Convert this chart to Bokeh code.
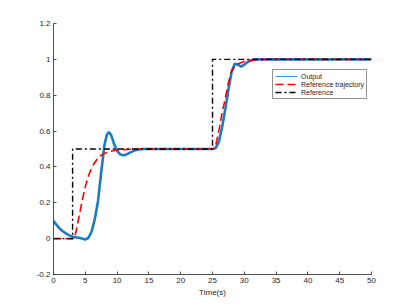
from bokeh.plotting import figure
from bokeh.models import ColumnDataSource, Legend, LegendItem, FixedTicker
from bokeh.embed import file_html
from bokeh.resources import INLINE

# ---- data ----
out_t = [0, 0.5, 1, 1.5, 2, 2.5, 3, 4, 5, 5.5, 6, 6.5, 7, 7.5, 8, 8.4, 8.7, 9.1, 9.5, 10,
         10.5, 11, 11.5, 12, 13, 14, 20, 25, 25.5, 26, 26.5, 27, 27.5, 28, 28.5, 29, 29.5,
         30, 30.5, 31.5, 40, 50]
out_y = [0.10, 0.075, 0.055, 0.04, 0.028, 0.018, 0.01, 0.005, -0.005, 0.005, 0.04, 0.11,
         0.21, 0.37, 0.52, 0.58, 0.595, 0.575, 0.53, 0.49, 0.47, 0.465, 0.47, 0.48, 0.495,
         0.5, 0.5, 0.5, 0.505, 0.54, 0.62, 0.72, 0.83, 0.93, 0.975, 0.97, 0.96, 0.97, 0.985,
         1.0, 1.0, 1.0]

traj_t = [0, 3.2, 3.5, 4, 4.5, 5, 5.5, 6, 6.5, 7, 7.5, 8, 9, 10, 12, 14, 25.2, 25.5, 26,
          26.5, 27, 27.5, 28, 28.5, 29, 30, 31, 32, 34, 50]
traj_y = [0, 0, 0.03, 0.12, 0.21, 0.29, 0.35, 0.395, 0.425, 0.45, 0.465, 0.475, 0.487,
          0.494, 0.499, 0.5, 0.5, 0.52, 0.6, 0.7, 0.78, 0.87, 0.935, 0.96, 0.975, 0.988,
          0.994, 0.997, 1.0, 1.0]

ref_t = [0, 3, 3, 25, 25, 50]
ref_y = [0, 0, 0.5, 0.5, 1.0, 1.0]

x_ticks = [0, 5, 10, 15, 20, 25, 30, 35, 40, 45, 50]
y_ticks = [-0.2, 0, 0.2, 0.4, 0.6, 0.8, 1.0, 1.2]
y_tick_labels = {-0.2: "-0.2", 0: "0", 0.2: "0.2", 0.4: "0.4", 0.6: "0.6",
                 0.8: "0.8", 1.0: "1", 1.2: "1.2"}
x_label = "Time(s)"
legend_labels = ["Output", "Reference trajectory", "Reference"]

FONT = "Liberation Sans"
AX = "#262626"

p = figure(frame_width=318, frame_height=251, min_border_left=53, min_border_top=23,
           min_border_right=30, min_border_bottom=24,
           x_range=(0, 50), y_range=(-0.2, 1.2),
           output_backend="svg", toolbar_location=None, tools="")
p.outline_line_color = None
p.xgrid.grid_line_color = None
p.ygrid.grid_line_color = None

out_src = ColumnDataSource(dict(x=out_t, y=out_y))
traj_src = ColumnDataSource(dict(x=traj_t, y=traj_y))
ref_src = ColumnDataSource(dict(x=ref_t, y=ref_y))

# thin renderer (under the thick one) used as the legend sample for the output line
r_out_leg = p.line("x", "y", source=out_src, color="#3C8FD0", line_width=1)
r_out = p.line("x", "y", source=out_src, color="#1A7CC4", line_width=2.6)
r_traj = p.line("x", "y", source=traj_src, color="#FF0000", line_width=1.6, line_dash="8 4")
r_ref = p.line("x", "y", source=ref_src, color="#000000", line_width=1.4, line_dash="6 3 2 3")

for ax in (p.xaxis[0], p.yaxis[0]):
    ax.axis_line_color = AX
    ax.axis_line_width = 0.8
    ax.major_tick_line_color = AX
    ax.major_tick_line_width = 0.8
    ax.major_tick_in = 3
    ax.major_tick_out = 0
    ax.minor_tick_line_color = None
    ax.major_label_text_font = FONT
    ax.major_label_text_font_size = "8px"
    ax.major_label_text_color = AX
    ax.major_label_standoff = 3

p.xaxis.ticker = FixedTicker(ticks=x_ticks)
p.yaxis.ticker = FixedTicker(ticks=y_ticks)
p.yaxis.major_label_overrides = y_tick_labels
p.xaxis.axis_label = x_label
p.xaxis.axis_label_text_font = FONT
p.xaxis.axis_label_text_font_size = "8px"
p.xaxis.axis_label_text_font_style = "normal"
p.xaxis.axis_label_text_color = AX
p.xaxis.axis_label_standoff = 2

legend = Legend(items=[LegendItem(label=legend_labels[0], renderers=[r_out_leg]),
                       LegendItem(label=legend_labels[1], renderers=[r_traj]),
                       LegendItem(label=legend_labels[2], renderers=[r_ref])],
                location=(219, 175))
legend.label_text_font = FONT
legend.label_text_font_size = "7px"
legend.label_text_color = AX
legend.label_height = 8
legend.glyph_height = 8
legend.glyph_width = 22
legend.label_standoff = 4
legend.spacing = 0
legend.padding = 2
legend.margin = 0
legend.border_line_color = AX
legend.border_line_width = 0.8
legend.background_fill_color = "white"
legend.background_fill_alpha = 1
p.add_layout(legend, "center")

open("out.html", "w").write(file_html(p, INLINE))
